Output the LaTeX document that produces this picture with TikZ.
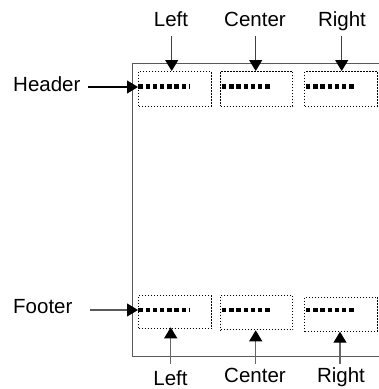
\documentclass[tikz,border=0pt]{standalone}
\usepackage{fontspec}
\setmainfont{Liberation Sans}
\usetikzlibrary{arrows.meta}
\begin{document}
\begin{tikzpicture}[x=1pt,y=-1pt,
  lbl/.style={inner sep=0pt,font=\fontsize{20.5}{24}\selectfont},
  zone/.style={draw=black,line width=1pt,dash pattern=on 1.6pt off 1.4pt,inner sep=0pt,anchor=north west},
  fill dots/.style={line width=4.3pt,dash pattern=on 4.4pt off 2.8pt,black},
  pointer/.style={line width=1.1pt,-{Triangle[length=11pt,width=13pt,black]}}
]
\useasboundingbox (0,0) rectangle (379,389);
\clip (0,0) rectangle (379,389);
% page
\draw[black!65,line width=1.2pt] (390,63.5) -- (132.5,63.5) -- (132.5,356.5) -- (390,356.5);
% header zones
\node[zone,minimum width=72.7pt,minimum height=34.5pt] (h1) at (138,71) {};
\node[zone,minimum width=72.3pt,minimum height=34.5pt] (h2) at (220,71) {};
\node[zone,minimum width=72.7pt,minimum height=34.5pt] (h3) at (304.3,71) {};
% footer zones
\node[zone,minimum width=72.7pt,minimum height=33.3pt] (f1) at (138,295) {};
\node[zone,minimum width=72.3pt,minimum height=34.3pt] (f2) at (220,295) {};
\node[zone,minimum width=72.7pt,minimum height=34pt] (f3) at (304.3,296.7) {};
% placeholder dots
\coordinate (hd1a) at (138.3,86.5); \coordinate (hd1b) at (189,86.5);
\coordinate (hd2a) at (222,86.5);   \coordinate (hd2b) at (271,86.5);
\coordinate (hd3a) at (306,86.5);   \coordinate (hd3b) at (355,86.5);
\coordinate (fd1a) at (138.3,310);  \coordinate (fd1b) at (189,310);
\coordinate (fd2a) at (222,310);    \coordinate (fd2b) at (271,310);
\coordinate (fd3a) at (306,310);    \coordinate (fd3b) at (355,310);
\draw[fill dots] (hd1a) -- (hd1b);
\draw[fill dots] (hd2a) -- (hd2b);
\draw[fill dots] (hd3a) -- (hd3b);
\draw[fill dots] (fd1a) -- (fd1b);
\draw[fill dots] (fd2a) -- (fd2b);
\draw[fill dots] (fd3a) -- (fd3b);
% top labels
\node[lbl,anchor=base] (tl) at (171,26) {Left};
\node[lbl,anchor=base] (tc) at (255,26) {Center};
\node[lbl,anchor=base] (tr) at (342,26) {Right};
\coordinate (tla) at (171.7,36);
\coordinate (tca) at (255.7,36);
\coordinate (tra) at (341.7,36);
\draw[pointer,black!75] (tla) -- (tla |- h1.north);
\draw[pointer,black!75] (tca) -- (tca |- h2.north);
\draw[pointer,black!75] (tra) -- (tra |- h3.north);
% bottom labels
\node[lbl,anchor=base] (bl) at (170.5,385) {Left};
\node[lbl,anchor=base] (bc) at (255,382) {Center};
\node[lbl,anchor=base] (br) at (341,382) {Right};
\coordinate (bla) at (170.7,363.5);
\coordinate (bca) at (255.7,363.5);
\coordinate (bra) at (340,363.5);
\draw[pointer,black!60] (bla) -- ([yshift=2pt]bla |- f1.south);
\draw[pointer,black!60] (bca) -- (bca |- f2.south);
\draw[pointer,black!60] (bra) -- (bra |- f3.south);
% header / footer labels
\node[lbl,anchor=base west] (hdr) at (13,91.5) {Header};
\node[lbl,anchor=base west] (ftr) at (13,313) {Footer};
\coordinate (hs) at (88,87);
\coordinate (fs) at (90,310);
\draw[pointer,black] (hs) -- (hs -| h1.west);
\draw[pointer,black!65] (fs) -- (fs -| f1.west);
\end{tikzpicture}
\end{document}
